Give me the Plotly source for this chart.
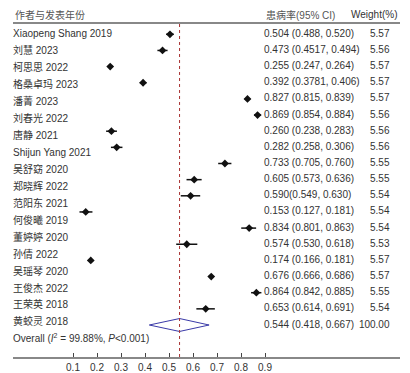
import plotly.graph_objects as go

# ---------------- data ----------------
studies = ["Xiaopeng Shang 2019", "刘慧 2023", "柯思思 2022", "格桑卓玛 2023", "潘菁 2023",
           "刘春光 2022", "唐静 2021", "Shijun Yang 2021", "吴舒窈 2020", "郑晓辉 2022",
           "范阳东 2021", "何俊曦 2019", "董婷婷 2020", "孙倩 2022", "吴瑶琴 2020",
           "王俊杰 2022", "王荣英 2018", "黄蛟灵 2018"]
est = [0.504, 0.473, 0.255, 0.392, 0.827, 0.869, 0.260, 0.282, 0.733, 0.605,
       0.590, 0.153, 0.834, 0.574, 0.174, 0.676, 0.864, 0.653]
lo = [0.488, 0.4517, 0.247, 0.3781, 0.815, 0.854, 0.238, 0.258, 0.705, 0.573,
      0.549, 0.127, 0.801, 0.530, 0.166, 0.666, 0.842, 0.614]
hi = [0.520, 0.494, 0.264, 0.406, 0.839, 0.884, 0.283, 0.306, 0.760, 0.636,
      0.630, 0.181, 0.863, 0.618, 0.181, 0.686, 0.885, 0.691]
ci_labels = ["0.504 (0.488, 0.520)", "0.473 (0.4517, 0.494)", "0.255 (0.247, 0.264)",
             "0.392 (0.3781, 0.406)", "0.827 (0.815, 0.839)", "0.869 (0.854, 0.884)",
             "0.260 (0.238, 0.283)", "0.282 (0.258, 0.306)", "0.733 (0.705, 0.760)",
             "0.605 (0.573, 0.636)", "0.590(0.549, 0.630)", "0.153 (0.127, 0.181)",
             "0.834 (0.801, 0.863)", "0.574 (0.530, 0.618)", "0.174 (0.166, 0.181)",
             "0.676 (0.666, 0.686)", "0.864 (0.842, 0.885)", "0.653 (0.614, 0.691)"]
weights = [5.57, 5.56, 5.57, 5.57, 5.57, 5.56, 5.56, 5.56, 5.55, 5.55,
           5.54, 5.54, 5.54, 5.53, 5.57, 5.57, 5.55, 5.54]
overall_est = 0.544
overall_lo = 0.418
overall_hi = 0.667
overall_weight = 100.00
overall_ci_label = "0.544 (0.418, 0.667)"
overall_label = "Overall (<i>I</i><sup>2</sup> = 99.88%, <i>P</i>&lt;0.001)"
header_study = "作者与发表年份"
header_ci = "患病率(95% CI)"
header_weight = "Weight(%)"
xticks = [0.1, 0.2, 0.3, 0.4, 0.5, 0.6, 0.7, 0.8, 0.9]

# ---------------- style ----------------
FONT = "Liberation Sans, Arial, Noto Sans CJK SC, sans-serif"
TXT = "#333333"
OFF = 8  # page body margin offsets the figure by 8 px
W, H = 410 - OFF, 373 - OFF
ML, MR, MT = 13 - OFF, 10, 0
AXIS_Y = 357 - OFF
MB = H - AXIS_Y
X0, PX_PER_UNIT = 49 - OFF, 240.0  # pixel of value 0 and pixels per unit
xr = [(ML - X0) / PX_PER_UNIT, (W - MR - X0) / PX_PER_UNIT]
plot_h = H - MT - MB
row0, row_step = 34.3 - OFF, 16.15      # markers / value column
lab0, lab_step = 34.3 - OFF, 16.98      # label column
yr = [(plot_h - row0) / row_step, -row0 / row_step]
yr2 = [(plot_h - lab0) / lab_step, -lab0 / lab_step]

label_x = xr[0]
val_x = (264.0 - OFF - X0) / PX_PER_UNIT
wt_x = (389.5 - OFF - X0) / PX_PER_UNIT

n = len(studies)
rows = list(range(n))
orow = n

fig = go.Figure()

# study estimates with CI
fig.add_trace(go.Scatter(
    x=est, y=rows, mode="markers",
    marker=dict(symbol="diamond", size=6, color="#111111"),
    error_x=dict(type="data", symmetric=False,
                 array=[h - e for h, e in zip(hi, est)],
                 arrayminus=[e - l for e, l in zip(est, lo)],
                 width=0, thickness=1.5, color="#111111"),
    showlegend=False, hoverinfo="skip"))

# overall diamond
fig.add_trace(go.Scatter(
    x=[overall_lo, overall_est, overall_hi, overall_est, overall_lo],
    y=[orow, orow - 0.4, orow, orow + 0.4, orow],
    mode="lines", fill="toself", fillcolor="white",
    line=dict(color="#3a3aa8", width=1),
    showlegend=False, hoverinfo="skip"))

# study labels column
fig.add_trace(go.Scatter(
    x=[label_x] * (n + 1), y=list(range(n + 1)), yaxis="y2",
    mode="text", text=studies + [overall_label], textposition="middle right",
    textfont=dict(family=FONT, size=10, color=TXT),
    showlegend=False, hoverinfo="skip", cliponaxis=False))

# CI text column
fig.add_trace(go.Scatter(
    x=[val_x] * (n + 1), y=rows + [orow],
    mode="text", text=ci_labels + [overall_ci_label], textposition="middle right",
    textfont=dict(family=FONT, size=10, color=TXT),
    showlegend=False, hoverinfo="skip", cliponaxis=False))

# weight column
fig.add_trace(go.Scatter(
    x=[wt_x] * (n + 1), y=rows + [orow],
    mode="text", text=[f"{w:.2f}" for w in weights + [overall_weight]],
    textposition="middle left",
    textfont=dict(family=FONT, size=10, color=TXT),
    showlegend=False, hoverinfo="skip", cliponaxis=False))

hdr_y = 1 - (15 - OFF) / plot_h
line_y = 1 - (23 - OFF) / plot_h

fig.add_annotation(x=label_x, y=hdr_y, xref="x", yref="paper", text=header_study,
                   showarrow=False, xanchor="left", yanchor="middle",
                   font=dict(family=FONT, size=10, color="#555555"))
fig.add_annotation(x=val_x, y=hdr_y, xref="x", yref="paper", text=header_ci,
                   showarrow=False, xanchor="left", yanchor="middle",
                   font=dict(family=FONT, size=10, color="#555555"))
fig.add_annotation(x=xr[1], y=hdr_y, xref="x", yref="paper", text=header_weight,
                   showarrow=False, xanchor="right", yanchor="middle",
                   font=dict(family=FONT, size=10, color=TXT))

# header rule
fig.add_shape(type="line", xref="paper", yref="paper", x0=0, x1=1, y0=line_y, y1=line_y,
              line=dict(color="#888888", width=2))
# reference line at overall estimate
fig.add_shape(type="line", xref="x", yref="paper", x0=overall_est, x1=overall_est,
              y0=0, y1=line_y, line=dict(color="#a83232", width=1, dash="dot"))

fig.update_layout(
    width=W, height=H, margin=dict(l=ML, r=MR, t=MT, b=MB),
    paper_bgcolor="white", plot_bgcolor="white",
    font=dict(family=FONT, size=10, color=TXT),
    xaxis=dict(range=xr, tickvals=xticks, ticktext=[f"{t:.1f}" for t in xticks],
               ticks="inside", ticklen=4, tickwidth=1, tickcolor="#444444",
               showline=True, linecolor="#888888", linewidth=2,
               showgrid=False, zeroline=False, fixedrange=True,
               tickfont=dict(family=FONT, size=10, color=TXT)),
    yaxis=dict(range=yr, visible=False, showgrid=False, zeroline=False),
    yaxis2=dict(range=yr2, overlaying="y", visible=False, showgrid=False, zeroline=False),
    showlegend=False,
)

fig.write_html("out.html")
